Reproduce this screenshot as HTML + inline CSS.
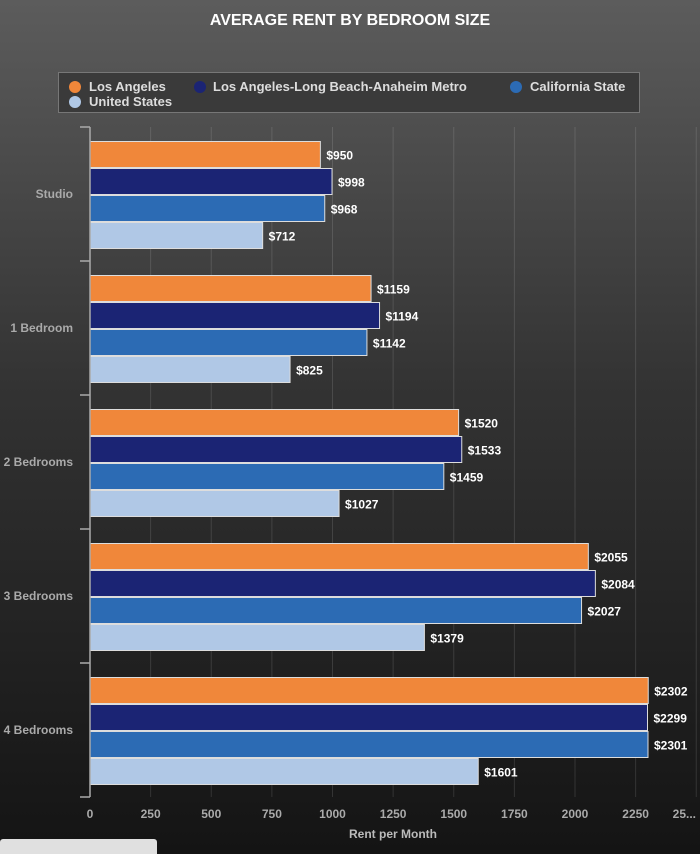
<!DOCTYPE html>
<html><head><meta charset="utf-8"><style>
html,body{margin:0;padding:0;overflow:hidden;}
body{width:700px;height:854px;overflow:hidden;background:linear-gradient(#5c5c5c,#333 45%,#141414);font-family:"Liberation Sans",sans-serif;position:relative;}
svg{display:block}
text{font-family:"Liberation Sans",sans-serif;font-weight:bold;}
</style></head><body>
<svg id="chart" width="700" height="854" xmlns="http://www.w3.org/2000/svg">
<text x="350" y="25" fill="#fff" font-size="16" text-anchor="middle">AVERAGE RENT BY BEDROOM SIZE</text>
<g>
<rect x="58.5" y="72.5" width="581" height="40" fill="#3a3a3a" stroke="#777"/>
<g><circle cx="75" cy="87" r="6" fill="#f0873a"/><text x="89" y="91" fill="#ddd" font-size="13">Los Angeles</text></g>
<g><circle cx="200" cy="87" r="6" fill="#1b2474"/><text x="213" y="91" fill="#ddd" font-size="13">Los Angeles-Long Beach-Anaheim Metro</text></g>
<g><circle cx="516" cy="87" r="6" fill="#2c6bb4"/><text x="530" y="91" fill="#ddd" font-size="13">California State</text></g>
<g><circle cx="75" cy="102" r="6" fill="#b0c8e6"/><text x="89" y="106" fill="#ddd" font-size="13">United States</text></g>
</g>
<g id="grid"></g><g id="bars"></g><g id="axes"></g>
<text x="393" y="838" fill="#bbb" font-size="12" text-anchor="middle">Rent per Month</text>
<rect x="0" y="839" width="157" height="20" rx="3" fill="#e0e0e0"/>
</svg>
<script>
const categories=["Studio","1 Bedroom","2 Bedrooms","3 Bedrooms","4 Bedrooms"];
const seriesNames=["Los Angeles","Los Angeles-Long Beach-Anaheim Metro","California State","United States"];
const laValues=[950,1159,1520,2055,2302];
const metroValues=[998,1194,1533,2084,2299];
const caValues=[968,1142,1459,2027,2301];
const usValues=[712,825,1027,1379,1601];
const xTicks=[0,250,500,750,1000,1250,1500,1750,2000,2250,2500];
const xTickLabels=["0","250","500","750","1000","1250","1500","1750","2000","2250","25..."];
const colors=["#f0873a","#1b2474","#2c6bb4","#b0c8e6"];
const series=[laValues,metroValues,caValues,usValues];
const NS="http://www.w3.org/2000/svg";
const X0=90,K=0.2425,Y0=127,BAND=134,BH=27,PAD=13;
const xs=v=>X0+v*K;
const yb=i=>Y0+i*BAND;
function mk(p,t,a){const e=document.createElementNS(NS,t);for(const k in a)e.setAttribute(k,a[k]);p.appendChild(e);return e;}
const grid=document.getElementById('grid'),bars=document.getElementById('bars'),axes=document.getElementById('axes');
xTicks.forEach((t,i)=>{
 if(t>0){const g=mk(grid,'line',{x1:xs(t),x2:xs(t),y1:Y0,y2:yb(5),stroke:'rgba(255,255,255,0.12)'});
 
 }
 const last=i===xTicks.length-1;
 const l=mk(axes,'text',{x:last?696:xs(t),y:yb(5)+21,fill:'#aaa','font-size':'12','text-anchor':last?'end':'middle'});
 l.textContent=xTickLabels[i];
 
 
});
const ax=mk(axes,'line',{x1:X0,x2:X0,y1:Y0,y2:yb(5),stroke:'#aaa','stroke-width':1.5});


for(let i=0;i<=5;i++){const tk=mk(axes,'line',{x1:80,x2:X0,y1:yb(i),y2:yb(i),stroke:'#aaa','stroke-width':1.5});
 
 }
categories.forEach((c,i)=>{
 const l=mk(axes,'text',{x:73,y:yb(i)+BAND/2+4,fill:'#aaa','font-size':'12','text-anchor':'end'});
 l.textContent=c;
 
 
 series.forEach((s,j)=>{
  const y=yb(i)+PAD+1+j*BH;
  const r=mk(bars,'rect',{x:X0,y:y+0.5,width:xs(s[i])-X0,height:BH-1,fill:colors[j],stroke:'#ddd','stroke-width':1});
  
  
  const t=mk(bars,'text',{x:xs(s[i])+6,y:y+BH/2+5,fill:'#fff','font-size':'12'});
  t.textContent='$'+s[i];
  
  
 });
});
</script>
</body></html>
